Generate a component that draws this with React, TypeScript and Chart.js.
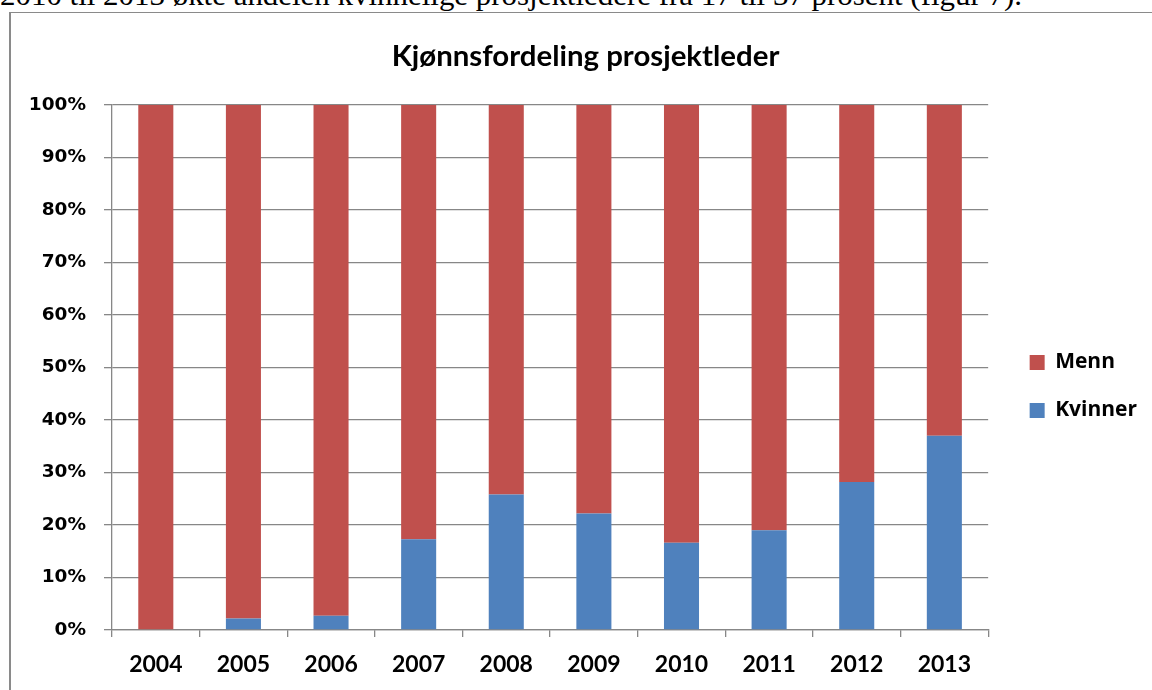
import React, { useEffect, useRef } from "react";
import { Chart, registerables } from "chart.js";

Chart.register(...registerables);

const years = ["2004", "2005", "2006", "2007", "2008", "2009", "2010", "2011", "2012", "2013"];
const kvinner = [0, 2.2, 2.7, 17.3, 25.8, 22.2, 16.6, 19.0, 28.2, 37.0];
const menn = [100, 97.8, 97.3, 82.7, 74.2, 77.8, 83.4, 81.0, 71.8, 63.0];
const yMin = 0;
const yMax = 100;
const yStep = 10;
const titleText = "Kjønnsfordeling prosjektleder";
const headerText = "2010 til 2013 økte andelen kvinnelige prosjektledere fra 17 til 37 prosent (figur 7).";

const GRID = "#878787";
const RED = "#C0504D";
const BLUE = "#4F81BD";

export default function App() {
  const ref = useRef<HTMLCanvasElement | null>(null);

  useEffect(() => {
    document.body.style.margin = "0";
    const canvas = ref.current!;
    const chart = new Chart(canvas, {
      type: "bar",
      data: {
        labels: years,
        datasets: [
          { label: "Kvinner", data: kvinner, backgroundColor: BLUE, barPercentage: 0.4, categoryPercentage: 1 },
          { label: "Menn", data: menn, backgroundColor: RED, barPercentage: 0.4, categoryPercentage: 1 },
        ],
      },
      options: {
        animation: false,
        responsive: false,
        devicePixelRatio: 1,
        layout: { padding: { left: 24, right: 5, top: 0, bottom: 0 } },
        plugins: {
          title: {
            display: true,
            text: titleText,
            color: "#000",
            font: { family: "Lato", weight: "bold", size: 29.4 },
            padding: { top: 39, bottom: 30.7 },
          },
          legend: {
            position: "right",
            reverse: true,
            labels: {
              boxWidth: 15,
              boxHeight: 15,
              padding: 27,
              color: "#000",
              font: { family: "'Open Sans'", weight: "bold", size: 21 },
            },
          },
          tooltip: { enabled: false },
        },
        scales: {
          x: {
            stacked: true,
            grid: { display: true, drawOnChartArea: false, drawTicks: true, tickLength: 7, color: GRID, lineWidth: 1.3 },
            border: { display: true, color: GRID, width: 1.3 },
            ticks: {
              color: "#000",
              font: { family: "Lato", weight: "bold", size: 23 },
              padding: 14,
              maxRotation: 0,
              autoSkip: false,
            },
            afterFit: (s: any) => {
              s.height = 143;
            },
          },
          y: {
            stacked: true,
            min: yMin,
            max: yMax,
            ticks: {
              stepSize: yStep,
              callback: (v: any) => v + "%",
              color: "#000",
              font: { family: "'DejaVu Sans'", weight: "bold", size: 18.5 },
              padding: 18,
            },
            grid: { color: GRID, lineWidth: 1.3, tickLength: 8 },
            border: { color: GRID, width: 1.3 },
            afterFit: (s: any) => {
              s.width = 88;
            },
          },
          yPad: {
            type: "linear",
            position: "right",
            display: true,
            grid: { display: false, drawTicks: false },
            border: { display: false },
            ticks: { display: false },
            afterFit: (s: any) => {
              s.width = 14.5;
            },
          },
        },
      } as any,
    });

    return () => chart.destroy();
  }, []);

  return (
    <div style={{ position: "fixed", left: 0, top: 0, width: 1152, height: 690, overflow: "hidden", background: "#fff" }}>
      <svg width={1152} height={14} style={{ position: "absolute", left: 0, top: 0 }}>
        <text
          x={0}
          y={5}
          textLength={1022}
          lengthAdjust="spacingAndGlyphs"
          fontFamily="'Liberation Serif', 'Times New Roman', serif"
          fontSize={30}
          fill="#000"
        >
          {headerText}
        </text>
      </svg>
      <div
        style={{
          position: "absolute",
          left: 9,
          top: 12,
          width: 1300,
          height: 800,
          borderLeft: "2px solid #8a8a8a",
          borderTop: "1px solid #8a8a8a",
          boxSizing: "border-box",
        }}
      />
      <canvas ref={ref} width={1152} height={773} style={{ position: "absolute", left: 0, top: 0, width: 1152, height: 773 }} />
    </div>
  );
}
